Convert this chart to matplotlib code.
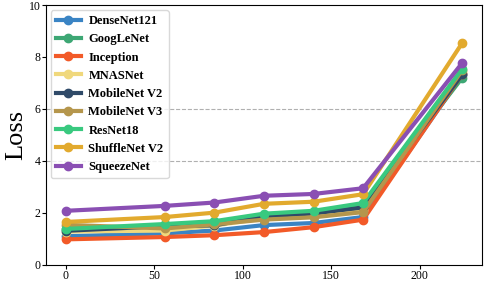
import matplotlib
matplotlib.use("Agg")
import matplotlib.pyplot as plt

# epochs at which loss was recorded
epochs = [0, 56, 84, 112, 140, 168, 224]

models = ["DenseNet121", "GoogLeNet", "Inception", "MNASNet", "MobileNet V2",
          "MobileNet V3", "ResNet18", "ShuffleNet V2", "SqueezeNet"]

densenet = [1.09, 1.20, 1.31, 1.52, 1.60, 1.83, 7.30]
googlenet = [1.35, 1.50, 1.62, 1.88, 1.98, 2.25, 7.20]
inception = [0.97, 1.06, 1.13, 1.25, 1.44, 1.73, 7.35]
mnasnet = [1.27, 1.31, 1.50, 1.78, 1.88, 2.11, 7.42]
mobilenet_v2 = [1.30, 1.48, 1.51, 1.86, 1.97, 2.20, 7.33]
mobilenet_v3 = [1.53, 1.39, 1.55, 1.73, 1.82, 2.02, 7.49]
resnet18 = [1.37, 1.56, 1.67, 1.96, 2.07, 2.37, 7.55]
shufflenet_v2 = [1.64, 1.83, 2.00, 2.34, 2.42, 2.71, 8.54]
squeezenet = [2.07, 2.26, 2.39, 2.65, 2.72, 2.94, 7.77]

series = [densenet, googlenet, inception, mnasnet, mobilenet_v2,
          mobilenet_v3, resnet18, shufflenet_v2, squeezenet]
colors = ["#3a84c4", "#3da774", "#f25a28", "#f0d87c", "#2f4a68",
          "#b5964c", "#39c97f", "#e2aa2e", "#8a4fb3"]

plt.rcParams["font.family"] = ["Liberation Serif", "DejaVu Serif"]

fig = plt.figure(figsize=(4.84, 2.82), dpi=100)
ax = fig.add_axes([0.095, 0.062, 0.901, 0.92])

for y in (4, 6):
    ax.axhline(y, color="#b0b0b0", linestyle="--", linewidth=0.8, zorder=0)

for name, vals, c in zip(models, series, colors):
    ax.plot(epochs, vals, marker="o", color=c, linewidth=3, markersize=6, label=name)

ax.set_ylim(0, 10)
ax.set_yticks([0, 2, 4, 6, 8, 10])
ax.set_xticks([0, 50, 100, 150, 200])
ax.tick_params(labelsize=8.5, length=3, pad=1)
ax.set_ylabel("Loss", fontsize=19, labelpad=1)

leg = ax.legend(loc="upper left", prop={"weight": "bold", "size": 9},
                handlelength=2.0, handletextpad=0.6, labelspacing=0.5,
                borderaxespad=0.4, framealpha=0.8, edgecolor="#d0d0d0")

fig.savefig("out.png", dpi=100)
